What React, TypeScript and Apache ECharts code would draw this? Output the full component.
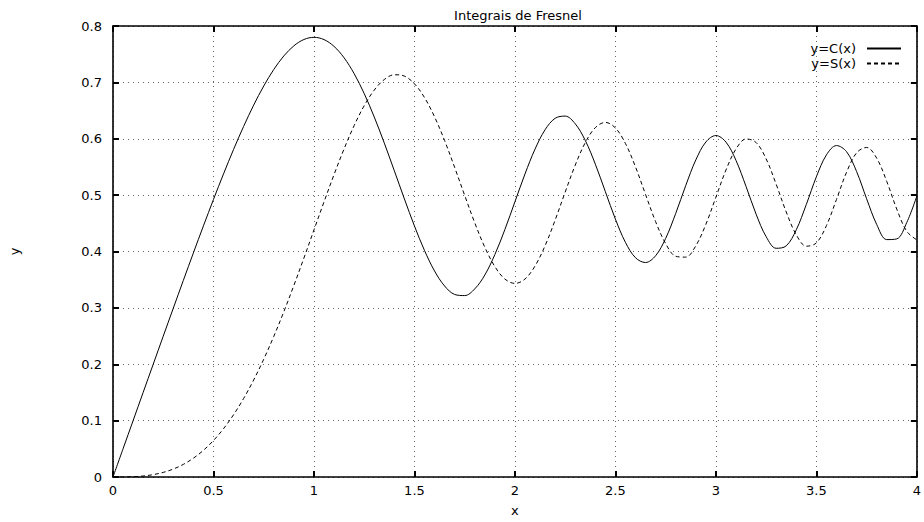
import React, { useEffect, useRef } from "react";
import * as echarts from "echarts";

const xValues = [
  0, 0.05, 0.1, 0.15, 0.2, 0.25, 0.3, 0.35, 0.4, 0.45, 0.5, 0.55, 0.6, 0.65, 0.7, 0.75, 0.8, 0.85, 0.9, 0.95,
  1, 1.05, 1.1, 1.15, 1.2, 1.25, 1.3, 1.35, 1.4, 1.45, 1.5, 1.55, 1.6, 1.65, 1.7, 1.75, 1.8, 1.85, 1.9, 1.95,
  2, 2.05, 2.1, 2.15, 2.2, 2.25, 2.3, 2.35, 2.4, 2.45, 2.5, 2.55, 2.6, 2.65, 2.7, 2.75, 2.8, 2.85, 2.9, 2.95,
  3, 3.05, 3.1, 3.15, 3.2, 3.25, 3.3, 3.35, 3.4, 3.45, 3.5, 3.55, 3.6, 3.65, 3.7, 3.75, 3.8, 3.85, 3.9, 3.95, 4,
];

const fresnelC = [
  0, 0.05, 0.09999, 0.14998, 0.19992, 0.24976, 0.2994, 0.34871, 0.39748, 0.44547,
  0.49234, 0.53771, 0.5811, 0.62195, 0.65965, 0.69353, 0.72284, 0.74686, 0.76482, 0.77604,
  0.77989, 0.77591, 0.76381, 0.74356, 0.71544, 0.6801, 0.63855, 0.59227, 0.5431, 0.49328,
  0.44526, 0.40183, 0.36546, 0.33879, 0.32383, 0.32182, 0.33363, 0.35825, 0.39447, 0.43898,
  0.48825, 0.53749, 0.58156, 0.61597, 0.63629, 0.64018, 0.62656, 0.59698, 0.55496, 0.50612,
  0.45741, 0.41613, 0.38894, 0.38046, 0.39249, 0.42327, 0.46749, 0.51707, 0.56238, 0.59422,
  0.60572, 0.5941, 0.5616, 0.5154, 0.46632, 0.42634, 0.4057, 0.41003, 0.43849, 0.48354,
  0.53257, 0.5713, 0.58795, 0.57713, 0.54195, 0.49359, 0.4481, 0.42111, 0.42233, 0.45162, 0.49843,
];

const fresnelS = [
  0, 0.00007, 0.00052, 0.00177, 0.00419, 0.00818, 0.01412, 0.02239, 0.03336, 0.04737,
  0.06473, 0.08572, 0.11054, 0.13933, 0.17214, 0.20888, 0.24934, 0.29316, 0.33978, 0.38846,
  0.43826, 0.48805, 0.5365, 0.58215, 0.6234, 0.65866, 0.68633, 0.70503, 0.71353, 0.71114,
  0.6975, 0.6731, 0.63889, 0.59688, 0.5492, 0.4995, 0.45094, 0.4077, 0.37335, 0.35112,
  0.34342, 0.35112, 0.37427, 0.4103, 0.4557, 0.50533, 0.55315, 0.59315, 0.61969, 0.62896,
  0.61918, 0.59153, 0.54999, 0.50106, 0.45292, 0.41398, 0.39153, 0.39003, 0.41014, 0.44812,
  0.49631, 0.54446, 0.58181, 0.59961, 0.59335, 0.56422, 0.51929, 0.47004, 0.42965, 0.40938,
  0.41524, 0.44586, 0.49231, 0.54043, 0.57498, 0.58454, 0.56562, 0.52442, 0.47521, 0.43566, 0.42052,
];

const seriesNames = ["y=C(x)", "y=S(x)"];
const titleText = "Integrais de Fresnel";
const xName = "x";
const yName = "y";

const FONT = "DejaVu Sans";

export default function App() {
  const ref = useRef<HTMLDivElement>(null);
  useEffect(() => {
    document.body.style.margin = "0";
    if (!ref.current) return;
    const chart = echarts.init(ref.current, undefined, { renderer: "svg" });
    const gridLine = { show: true, lineStyle: { color: "#666", type: [1, 4] as any, width: 1 } };
    const tick = { show: true, inside: true, length: 6, lineStyle: { color: "#000", width: 2 } };
    const axisLine = { show: true, onZero: false, lineStyle: { color: "#000", width: 1.6 } };
    const labelStyle = { color: "#000", fontFamily: FONT, fontSize: 13 };
    chart.setOption({
      animation: false,
      backgroundColor: "#fff",
      title: {
        text: titleText,
        left: 513,
        textAlign: "center",
        top: 4,
        textStyle: { fontFamily: FONT, fontSize: 13, fontWeight: "normal", color: "#000" },
      },
      legend: {
        data: seriesNames,
        orient: "vertical",
        right: 22,
        top: 42,
        align: "right",
        itemWidth: 34,
        itemHeight: 8,
        itemGap: 2,
        padding: 0,
        itemStyle: { opacity: 0 },
        textStyle: { fontFamily: FONT, fontSize: 13, color: "#000", padding: [0, 6, 0, 0] },
      },
      grid: { left: 108, right: 2, top: 26, bottom: 35, show: false },
      xAxis: [
        {
          type: "value",
          min: 0,
          max: 4,
          interval: 0.5,
          name: xName,
          nameLocation: "middle",
          nameGap: 27,
          nameTextStyle: labelStyle,
          axisLine,
          axisTick: tick,
          axisLabel: { ...labelStyle, margin: 7 },
          splitLine: gridLine,
        },
        {
          type: "value",
          position: "top",
          min: 0,
          max: 4,
          interval: 0.5,
          axisLine,
          axisTick: tick,
          axisLabel: { show: false },
          splitLine: { show: false },
        },
      ],
      yAxis: [
        {
          type: "value",
          min: 0,
          max: 0.8,
          interval: 0.1,
          name: yName,
          nameLocation: "middle",
          nameRotate: 90,
          nameGap: 92,
          nameTextStyle: labelStyle,
          axisLine,
          axisTick: tick,
          axisLabel: { ...labelStyle, margin: 11 },
          splitLine: gridLine,
        },
        {
          type: "value",
          position: "right",
          min: 0,
          max: 0.8,
          interval: 0.1,
          axisLine,
          axisTick: tick,
          axisLabel: { show: false },
          splitLine: { show: false },
        },
      ],
      series: [
        {
          name: seriesNames[0],
          type: "line",
          data: xValues.map((x, i) => [x, fresnelC[i]]),
          smooth: 0.35,
          symbol: "none",
          lineStyle: { color: "#000", width: 1, type: "solid" },
          itemStyle: { color: "#000" },
        },
        {
          name: seriesNames[1],
          type: "line",
          data: xValues.map((x, i) => [x, fresnelS[i]]),
          smooth: 0.35,
          symbol: "none",
          lineStyle: { color: "#000", width: 1, type: [4, 3] },
          itemStyle: { color: "#000" },
        },
      ],
    });
    return () => chart.dispose();
  }, []);
  return <div ref={ref} style={{ width: 924, height: 522 }} />;
}
